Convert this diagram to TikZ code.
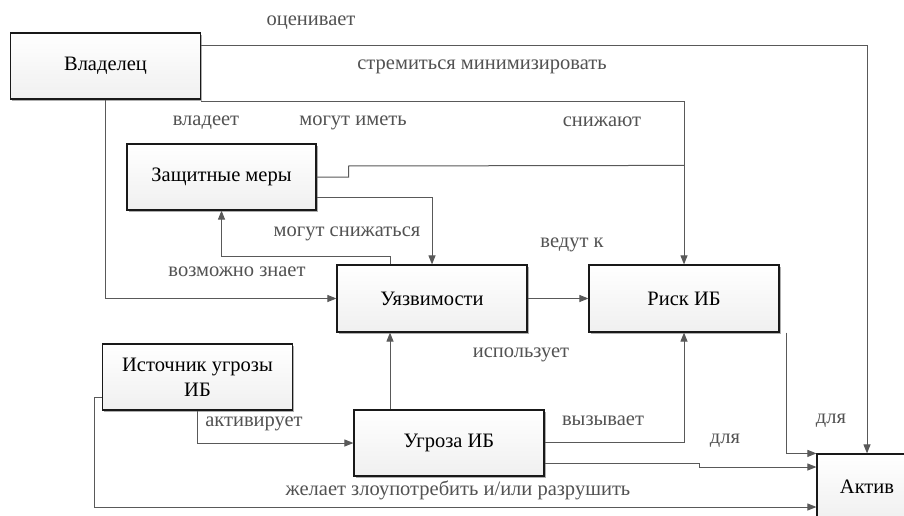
\documentclass[tikz,border=0pt]{standalone}
\usepackage{fontspec}
\setmainfont{Liberation Serif}
\usetikzlibrary{arrows.meta,shadows}
\tikzset{
 box/.style={draw=black!90, line width=1.2pt, top color=white, bottom color=gray!12,
   minimum width=190pt, minimum height=66pt, inner sep=2pt, align=center,
   font=\fontsize{20.5}{25}\selectfont, text=black,
   drop shadow={shadow xshift=1.6pt, shadow yshift=-1.6pt, opacity=0.45, fill=black!70}},
 conn/.style={draw=black!65, line width=1pt, -{Triangle[length=9pt,width=7pt]}},
 wire/.style={draw=black!65, line width=1pt},
 lbl/.style={text=black!68, font=\fontsize{20.5}{22}\selectfont, inner sep=0pt},
}
\begin{document}
\begin{tikzpicture}[x=1pt,y=-1pt]
\useasboundingbox (0,0) rectangle (904,516);
\clip (0,0) rectangle (904,516);
\fill[white] (0,0) rectangle (904,516);

\node[box] (own) at (105.5,66) {Владелец};
\node[box, minimum width=189pt] (prot) at (221.5,177) {Защитные меры};
\node[box, minimum height=67pt] (vuln) at (432,298.5) {Уязвимости};
\node[box, minimum height=67pt] (risk) at (684,298.5) {Риск ИБ};
\node[box] (src) at (197.5,377) {Источник угрозы\\ИБ};
\node[box] (thr) at (449,443) {Угроза ИБ};
\node[box, minimum width=100pt] (asset) at (867,487) {Актив};

\path (risk.north) ++(0,-99) coordinate (j1);

\draw[conn] ([yshift=20pt]own.east) -| (asset.north);
\draw[conn] ([yshift=-2pt]own.south east) -| (risk.north);
\draw[wire] (prot.east) -- ++(32,0) -- ++(0,-11) -- (j1);
\draw[conn] ([yshift=-20pt]prot.east) -| (vuln.north);
\draw[conn] ([xshift=-42pt]vuln.north) -- ++(0,-8) -| (prot.south);
\draw[conn] (own.south) |- (vuln.west);
\draw[conn] (vuln.east) -- (risk.west);
\draw[conn] ([xshift=-59pt]thr.north) -- ([xshift=-42pt]vuln.south);
\draw[conn] ([yshift=1pt]thr.east) -| (risk.south);
\draw[conn] ([yshift=-20pt]thr.east) -- ++(155,0) |- ([yshift=20pt]asset.west);
\draw[conn] ([xshift=7pt]risk.south east) |- (asset.north west);
\draw[conn] ([yshift=-20pt]src.west) -- ++(-7,0) |- ([yshift=-20pt]asset.west);
\draw[conn] (src.south) |- (thr.west);

\node[lbl] (l1) at (311,23) {оценивает};
\node[lbl] (l2) at (482,67) {стремиться минимизировать};
\node[lbl] (l3) at (206,123) {владеет};
\node[lbl] (l4) at (353,123) {могут иметь};
\node[lbl] (l5) at (602,122) {снижают};
\node[lbl] (l6) at (347,234) {могут снижаться};
\node[lbl] (l7) at (572,245) {ведут к};
\node[lbl] (l8) at (237,272) {возможно знает};
\node[lbl] (l9) at (521,355) {использует};
\node[lbl] (l10) at (254,424) {активирует};
\node[lbl] (l11) at (603,421) {вызывает};
\node[lbl] (l12) at (725,441) {для};
\node[lbl] (l13) at (831,421) {для};
\node[lbl] (l14) at (458,490) {желает злоупотребить и/или разрушить};
\end{tikzpicture}
\end{document}
